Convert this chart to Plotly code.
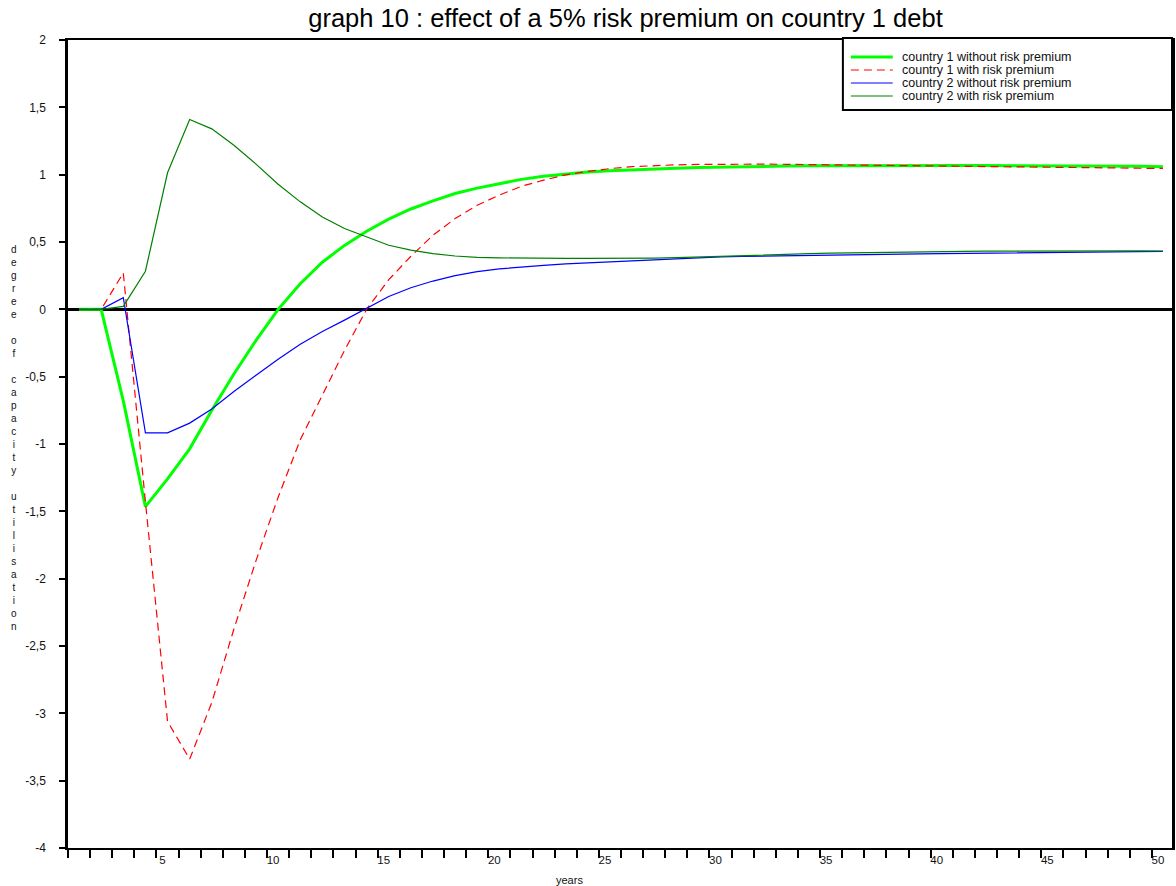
import plotly.graph_objects as go

# ---------------- data ----------------
years = list(range(1, 51))

country1_without = [0, 0, -0.68, -1.465, -1.259, -1.036, -0.75, -0.48, -0.23, 0.0,
                    0.19, 0.35, 0.475, 0.58, 0.67, 0.745, 0.805, 0.86, 0.9, 0.935,
                    0.965, 0.988, 1.006, 1.019, 1.029, 1.037, 1.043, 1.048, 1.053, 1.057,
                    1.06, 1.062, 1.064, 1.066, 1.067, 1.068, 1.068, 1.068, 1.068, 1.068,
                    1.068, 1.068, 1.068, 1.068, 1.067, 1.066, 1.066, 1.065, 1.063, 1.058]

country1_with = [0, 0, 0.27, -1.43, -3.06, -3.34, -2.92, -2.374, -1.866, -1.395,
                 -0.969, -0.639, -0.305, 0.0, 0.22, 0.394, 0.55, 0.674, 0.773, 0.848,
                 0.914, 0.959, 0.999, 1.024, 1.045, 1.06, 1.068, 1.073, 1.076, 1.078,
                 1.078, 1.078, 1.077, 1.076, 1.074, 1.072, 1.070, 1.068, 1.066, 1.064,
                 1.062, 1.06, 1.058, 1.056, 1.054, 1.052, 1.05, 1.049, 1.047, 1.046]

country2_without = [0, 0, 0.087, -0.917, -0.917, -0.845, -0.74, -0.61, -0.49, -0.37,
                    -0.26, -0.165, -0.08, 0.01, 0.095, 0.16, 0.21, 0.25, 0.28, 0.30,
                    0.315, 0.327, 0.337, 0.345, 0.354, 0.362, 0.368, 0.376, 0.383, 0.389,
                    0.393, 0.396, 0.399, 0.402, 0.404, 0.406, 0.408, 0.41, 0.412, 0.414,
                    0.416, 0.418, 0.419, 0.42, 0.421, 0.423, 0.425, 0.427, 0.428, 0.43]

country2_with = [0, 0, 0.022, 0.283, 1.014, 1.41, 1.34, 1.219, 1.078, 0.929,
                 0.798, 0.686, 0.6, 0.538, 0.476, 0.439, 0.414, 0.396, 0.386, 0.382,
                 0.379, 0.378, 0.378, 0.378, 0.378, 0.379, 0.381, 0.384, 0.388, 0.393,
                 0.398, 0.403, 0.408, 0.413, 0.418, 0.421, 0.424, 0.426, 0.428, 0.43,
                 0.431, 0.432, 0.433, 0.433, 0.434, 0.434, 0.434, 0.434, 0.434, 0.433]

series_names = ["country 1 without risk premium", "country 1 with risk premium",
                "country 2 without risk premium", "country 2 with risk premium"]

x_ticktext = [str(y) if y % 5 == 0 else "" for y in years]
y_tickvals = [-4, -3.5, -3, -2.5, -2, -1.5, -1, -0.5, 0, 0.5, 1, 1.5, 2]
y_ticktext = ["-4", "-3,5", "-3", "-2,5", "-2", "-1,5", "-1", "-0,5", "0", "0,5", "1", "1,5", "2"]

title_text = "graph 10 : effect of a 5% risk premium on country 1 debt"
x_title = "years"
y_title = "degree of capacity utilisation"

# ---------------- geometry (pixels) ----------------
W, H = 1176, 886
L, R, T, B = 68, 1175, 40, 848


def px2x(px):
    return (px - L) / (R - L)


def py2y(py):
    return (B - py) / (B - T)


styles = [
    dict(color="#00ff00", width=3),
    dict(color="#ff0000", width=1.2, dash="8px,5px"),
    dict(color="#0000ff", width=1.2),
    dict(color="#008000", width=1.2),
]
all_series = [country1_without, country1_with, country2_without, country2_with]

fig = go.Figure()
for name, vals, st in zip(series_names, all_series, styles):
    fig.add_trace(go.Scatter(x=years, y=vals, mode="lines", name=name,
                             line=st, showlegend=False, hoverinfo="x+y+name"))

font_family = "Liberation Sans, Arial, sans-serif"

# legend box (custom, compact like the original)
shapes = [dict(type="rect", xref="paper", yref="paper",
               x0=px2x(845), x1=px2x(1175), y0=py2y(110), y1=py2y(38),
               line=dict(color="black", width=2), fillcolor="white", layer="above")]
annotations = []
row_y = [57, 70, 83, 96]
for name, st, ry in zip(series_names, styles, row_y):
    shapes.append(dict(type="line", xref="paper", yref="paper",
                       x0=px2x(853), x1=px2x(895), y0=py2y(ry), y1=py2y(ry),
                       line=dict(color=st["color"], width=st["width"],
                                 dash=st.get("dash", "solid")),
                       layer="above"))
    annotations.append(dict(xref="paper", yref="paper", x=px2x(902), y=py2y(ry),
                            xanchor="left", yanchor="middle", showarrow=False,
                            text=name, font=dict(size=12.5, color="#111", family=font_family)))

# y axis title: letters stacked vertically
annotations.append(dict(xref="paper", yref="paper", x=px2x(14), y=py2y(438),
                        xanchor="center", yanchor="middle", showarrow=False,
                        text="<br>".join(ch if ch != " " else " " for ch in y_title),
                        font=dict(size=10, color="#111", family=font_family)))
# x axis title
annotations.append(dict(xref="paper", yref="paper", x=px2x(571), y=py2y(880),
                        xanchor="center", yanchor="middle", showarrow=False,
                        text=x_title, font=dict(size=11, color="#111", family=font_family)))

fig.update_layout(
    width=W, height=H,
    margin=dict(l=L, r=W - R, t=T, b=H - B, pad=0),
    paper_bgcolor="white", plot_bgcolor="white",
    separators=", ",
    font=dict(family=font_family, color="#111"),
    title=dict(text=title_text, x=px2x(627), xref="paper", xanchor="center",
               y=1 - 18 / H, yref="container", yanchor="middle",
               font=dict(size=25.5, color="black", family=font_family)),
    shapes=shapes,
    annotations=annotations,
    showlegend=False,
)

fig.update_xaxes(
    range=[0.5, 0.5 + (R - L) / 22.18],
    tickmode="array",
    tickvals=[y - 0.5 for y in years],
    ticktext=x_ticktext,
    ticks="outside", ticklen=8, tickwidth=2, tickcolor="black",
    ticklabelshift=6, ticklabelstandoff=-8,
    tickfont=dict(size=11.5, color="#111"),
    showline=True, linecolor="black", linewidth=2, mirror=True,
    showgrid=False, zeroline=False,
)

fig.update_yaxes(
    range=[-4, 2],
    tickmode="array",
    tickvals=y_tickvals,
    ticktext=y_ticktext,
    ticks="outside", ticklen=6, tickwidth=2, tickcolor="black",
    ticklabelstandoff=11,
    tickfont=dict(size=12, color="#111"),
    showline=True, linecolor="black", linewidth=2.5, mirror=True,
    showgrid=False,
    zeroline=True, zerolinecolor="black", zerolinewidth=2.5,
)

fig.write_html("out.html")
